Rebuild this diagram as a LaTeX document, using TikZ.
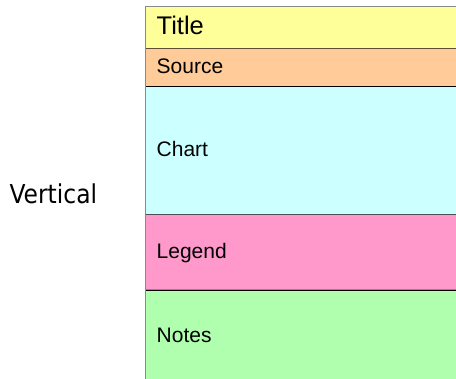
\documentclass[tikz,border=0pt]{standalone}
\usepackage{fontspec}
\setmainfont{Liberation Sans}
\newfontfamily\sidefont[FakeStretch=0.9]{DejaVu Sans}
\definecolor{titleY}{HTML}{FFFF99}
\definecolor{sourceO}{HTML}{FFCC99}
\definecolor{chartC}{HTML}{CCFFFF}
\definecolor{legendP}{HTML}{FF99CC}
\definecolor{notesG}{HTML}{B0FFAE}
\definecolor{edgeTop}{HTML}{8A8A8A}
\definecolor{edgeBrown}{HTML}{5E4E36}
\definecolor{edgeGray}{HTML}{505050}
\begin{document}
\begin{tikzpicture}[x=1pt,y=-1pt,
  panel/.style={draw=edgeTop, line width=0.9pt, minimum width=330pt, inner sep=0pt, anchor=north west},
  sep/.style={line width=0.9pt},
  lbl/.style={font=\fontsize{21}{24}\selectfont, anchor=base west, inner sep=0pt},
  ttl/.style={font=\fontsize{25.5}{28}\selectfont, anchor=base west, inner sep=0pt},
  side/.style={font=\sidefont\fontsize{26}{29}\selectfont, anchor=base west, inner sep=0pt}]
\useasboundingbox (0,0) rectangle (456,379);
\clip (0,0) rectangle (456,379);
\node[panel, fill=notesG,  minimum height=110pt]  (notes)  at (145,289.3) {};
\node[panel, fill=legendP, minimum height=75.6pt] (legend) at (145,213.7) {};
\node[panel, fill=chartC,  minimum height=128pt]  (chart)  at (145,85.7) {};
\node[panel, fill=sourceO, minimum height=38pt]   (source) at (145,47.7) {};
\node[panel, fill=titleY,  minimum height=41.7pt] (title) at (145,6) {};
\draw[sep, edgeBrown] (title.south west) -- (title.south east);
\draw[sep, black]     (source.south west) -- (source.south east);
\draw[sep, edgeGray]  (chart.south west) -- (chart.south east);
\draw[sep, black]     (legend.south west) -- (legend.south east);
\draw[sep, edgeTop]   (title.north west) -- (notes.south west);
\node[ttl] (ttitle)  at (156.5,35) {Title};
\node[lbl] (tsource) at (156.5,73.3) {Source};
\node[lbl] (tchart)  at (156.5,156.7) {Chart};
\node[lbl] (tlegend) at (156.5,258.5) {Legend};
\node[lbl] (tnotes)  at (156.5,342.3) {Notes};
\node[side] (vert) at (9.3,204) {Vertical};
\end{tikzpicture}
\end{document}
